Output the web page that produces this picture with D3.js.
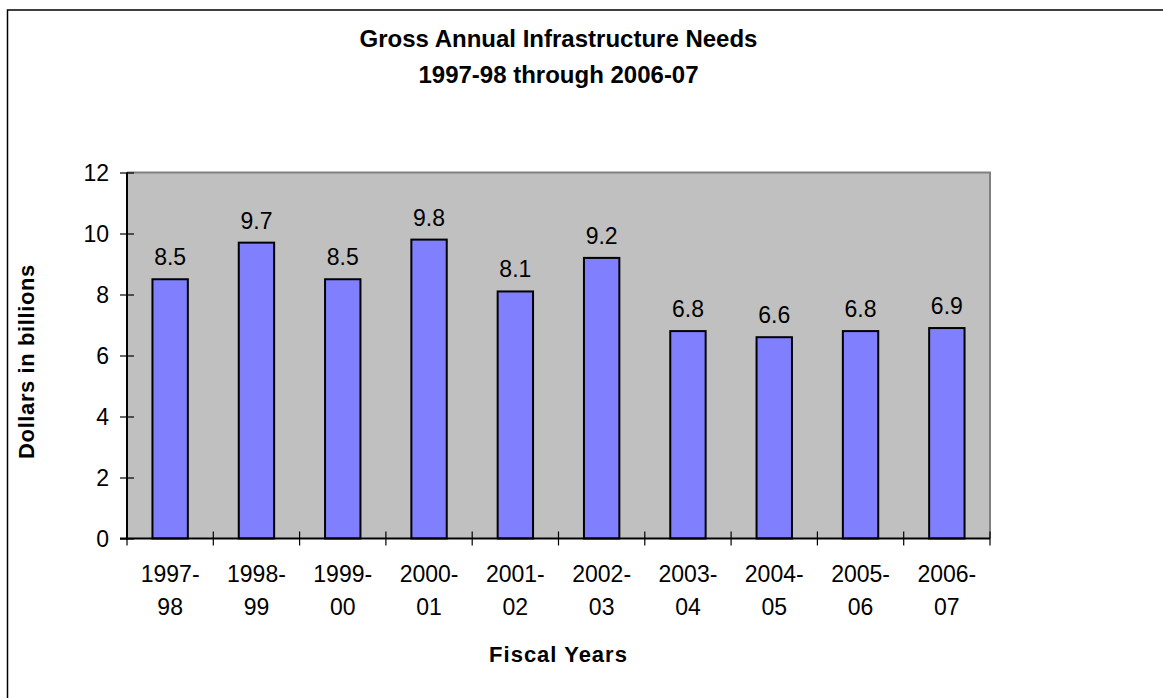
<!DOCTYPE html>
<html>
<head>
<meta charset="utf-8">
<script src="https://cdn.jsdelivr.net/npm/d3@7"></script>
<style>
  html, body { margin: 0; padding: 0; background: #fff; overflow: hidden; }
  svg { display: block; font-family: Arial, "Liberation Sans", sans-serif; }
</style>
</head>
<body>
<svg id="chart" width="1163" height="698"></svg>
<script>
// Fiscal years and gross annual infrastructure needs (billions of dollars)
const fiscalYears = ["1997-98", "1998-99", "1999-00", "2000-01", "2001-02",
                     "2002-03", "2003-04", "2004-05", "2005-06", "2006-07"];
const needs = [8.5, 9.7, 8.5, 9.8, 8.1, 9.2, 6.8, 6.6, 6.8, 6.9];
const yTicks = [0, 2, 4, 6, 8, 10, 12];
const titleLines = ["Gross Annual Infrastructure Needs", "1997-98 through 2006-07"];
const xTitle = "Fiscal Years";
const yTitle = "Dollars in billions";

const FONT = "Arial, 'Liberation Sans', sans-serif";
const svg = d3.select("#chart");

// outer chart frame: only its left and top edges fall inside the page
svg.append("path")
  .attr("d", "M7.5,698V10H1163")
  .attr("fill", "none").attr("stroke", "#000").attr("stroke-width", 1.5);

const plot = { left: 127, right: 990, top: 172.5, bottom: 538.5 };

const x = d3.scaleBand().domain(fiscalYears).range([plot.left, plot.right]);
const y = d3.scaleLinear().domain([0, 12]).range([plot.bottom, plot.top]);

// plot area background with grey top/right border
svg.append("rect")
  .attr("x", plot.left).attr("y", plot.top)
  .attr("width", plot.right - plot.left).attr("height", plot.bottom - plot.top)
  .attr("fill", "#C0C0C0");
svg.append("path")
  .attr("d", `M${plot.left},${plot.top}H${plot.right}V${plot.bottom}`)
  .attr("fill", "none").attr("stroke", "#808080").attr("stroke-width", 2);

// bars
const barW = x.bandwidth() * 0.41;
svg.append("g").selectAll("rect")
  .data(fiscalYears)
  .join("rect")
  .attr("x", (d) => x(d) + (x.bandwidth() - barW) / 2)
  .attr("y", (d, i) => y(needs[i]))
  .attr("width", barW)
  .attr("height", (d, i) => y(0) - y(needs[i]))
  .attr("fill", "#8080FF")
  .attr("stroke", "#000")
  .attr("stroke-width", 2);

// value labels above the bars
svg.append("g").selectAll("text")
  .data(fiscalYears)
  .join("text")
  .attr("x", (d) => x(d) + x.bandwidth() / 2)
  .attr("y", (d, i) => y(needs[i]) - 14)
  .attr("text-anchor", "middle")
  .attr("font-family", FONT)
  .attr("font-size", 23)
  .attr("fill", "#000")
  .text((d, i) => needs[i].toFixed(1));

// y axis: line, crossing ticks, labels
const yAxis = svg.append("g").attr("transform", `translate(${plot.left},0)`);
yAxis.call(d3.axisLeft(y).tickValues(yTicks).tickSize(0).tickFormat(d3.format("d")));
yAxis.select(".domain").remove();
yAxis.selectAll(".tick text")
  .attr("x", -18).attr("dy", "0.36em")
  .attr("font-size", 23).attr("font-family", FONT)
  .attr("fill", "#000");
yAxis.selectAll(".tick").append("line")
  .attr("x1", -7).attr("x2", 7).attr("stroke", "#000").attr("stroke-width", 1.2);
yAxis.append("line")
  .attr("y1", plot.top).attr("y2", plot.bottom + 1)
  .attr("stroke", "#000").attr("stroke-width", 2);

// x axis: line, crossing ticks at band edges, two-line labels
const xAxis = svg.append("g");
const edges = fiscalYears.map((d) => x(d)).concat([x.range()[1]]);
xAxis.selectAll("line.tick")
  .data(edges)
  .join("line")
  .attr("class", "tick")
  .attr("x1", (d) => d).attr("x2", (d) => d)
  .attr("y1", plot.bottom - 7).attr("y2", plot.bottom + 7)
  .attr("stroke", "#000").attr("stroke-width", 1.2);
xAxis.append("line")
  .attr("x1", plot.left - 7).attr("x2", plot.right)
  .attr("y1", plot.bottom).attr("y2", plot.bottom)
  .attr("stroke", "#000").attr("stroke-width", 2);

const catLabels = xAxis.selectAll("text.cat")
  .data(fiscalYears)
  .join("text")
  .attr("class", "cat")
  .attr("text-anchor", "middle")
  .attr("font-family", FONT)
  .attr("font-size", 23)
  .attr("fill", "#000");
catLabels.append("tspan")
  .attr("x", (d) => x(d) + x.bandwidth() / 2)
  .attr("y", 582)
  .text((d) => d.split("-")[0] + "-");
catLabels.append("tspan")
  .attr("x", (d) => x(d) + x.bandwidth() / 2)
  .attr("y", 615)
  .text((d) => d.split("-")[1]);

// titles
svg.append("g").selectAll("text")
  .data(titleLines)
  .join("text")
  .attr("x", (plot.left + plot.right) / 2)
  .attr("y", (d, i) => 47 + i * 36)
  .attr("text-anchor", "middle")
  .attr("font-family", FONT)
  .attr("font-size", 24)
  .attr("font-weight", "bold")
  .text((d) => d);

svg.append("text")
  .attr("x", (plot.left + plot.right) / 2)
  .attr("y", 662)
  .attr("text-anchor", "middle")
  .attr("font-family", FONT)
  .attr("font-size", 22)
  .attr("font-weight", "bold")
  .attr("letter-spacing", 1)
  .text(xTitle);

svg.append("text")
  .attr("transform", `translate(34,${(plot.top + plot.bottom) / 2 + 6}) rotate(-90)`)
  .attr("text-anchor", "middle")
  .attr("font-family", FONT)
  .attr("font-size", 22)
  .attr("font-weight", "bold")
  .attr("letter-spacing", 0.6)
  .text(yTitle);
</script>
</body>
</html>
